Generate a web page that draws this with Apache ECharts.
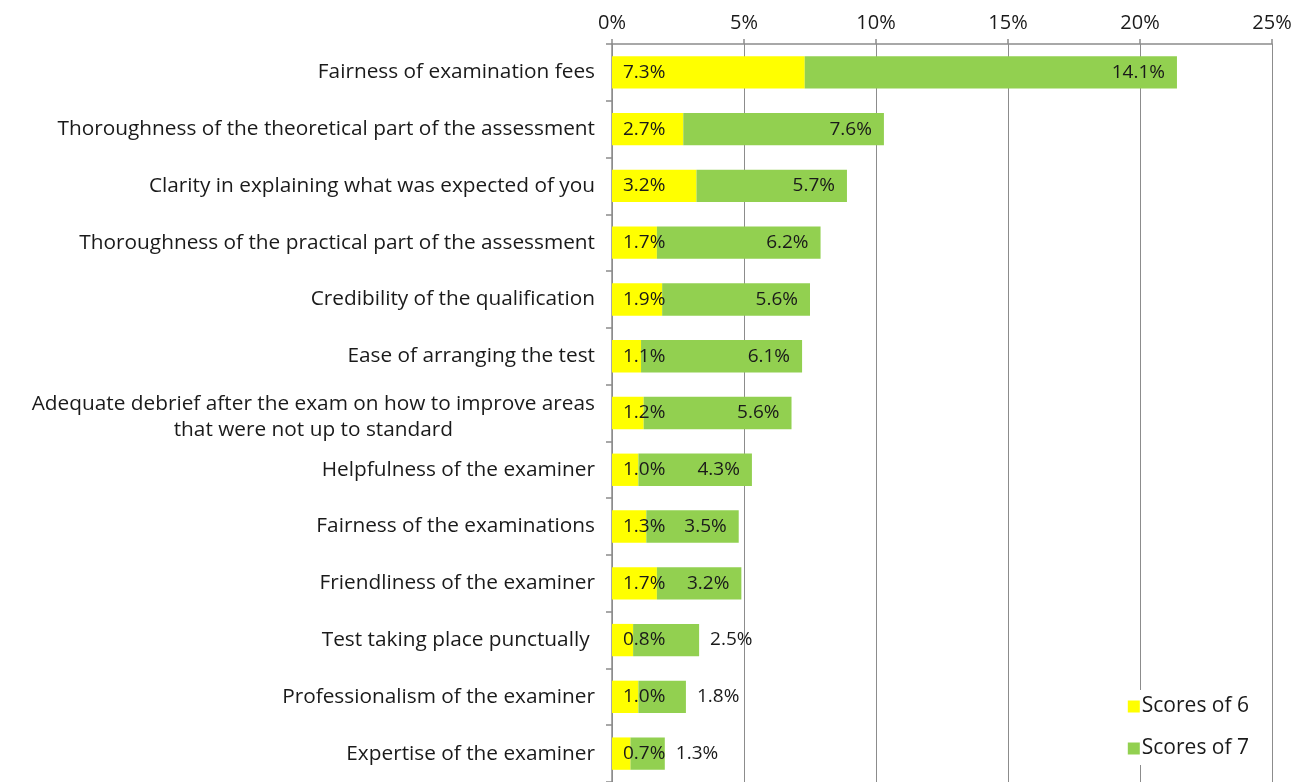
<!DOCTYPE html>
<html>
<head>
<meta charset="utf-8">
<script src="https://cdn.jsdelivr.net/npm/echarts@6/dist/echarts.min.js"></script>
<style>
  html, body { margin: 0; padding: 0; background: #fff; }
  #chart { width: 1305px; height: 782px; }
</style>
</head>
<body>
<div id="chart"></div>
<script>
// Satisfaction drivers: share of respondents giving top scores
const categories = [
  'Fairness of examination fees',
  'Thoroughness of the theoretical part of the assessment',
  'Clarity in explaining what was expected of you',
  'Thoroughness of the practical part of the assessment',
  'Credibility of the qualification',
  'Ease of arranging the test',
  'Adequate debrief after the exam on how to improve areas\nthat were not up to standard',
  'Helpfulness of the examiner',
  'Fairness of the examinations',
  'Friendliness of the examiner',
  'Test taking place punctually ',
  'Professionalism of the examiner',
  'Expertise of the examiner'
];
const scores6 = [7.3, 2.7, 3.2, 1.7, 1.9, 1.1, 1.2, 1.0, 1.3, 1.7, 0.8, 1.0, 0.7];
const scores7 = [14.1, 7.6, 5.7, 6.2, 5.6, 6.1, 5.6, 4.3, 3.5, 3.2, 2.5, 1.8, 1.3];
const seriesNames = ['Scores of 6', 'Scores of 7'];
const axisMax = 25;
const axisStep = 5;

const FONT = 'Open Sans';
const CAT_FS = 20.8;
const TICK_FS = 20;
const VAL_FS = 19;
const LEG_FS = 21;
const TXT = '#1a1a1a';

// width of the longest line of the wrapped label, so both lines centre on it
const ctx = document.createElement('canvas').getContext('2d');
ctx.font = CAT_FS + 'px "' + FONT + '"';

const chart = echarts.init(document.getElementById('chart'));

const catLabels = categories.map(c => {
  if (c.indexOf('\n') < 0) return c;
  const lines = c.split('\n');
  return {
    value: lines.map(l => '{w|' + l + '}').join('\n'),
    textStyle: { padding: [8, 0, 0, 0] }
  };
});
const wrapWidth = Math.max(...categories.filter(c => c.indexOf('\n') >= 0)
  .flatMap(c => c.split('\n')).map(l => ctx.measureText(l).width));

function fmt(v) { return v.toFixed(1) + '%'; }

chart.setOption({
  animation: false,
  backgroundColor: '#fff',
  textStyle: { fontFamily: FONT, color: TXT },
  grid: { left: 612, right: 33, top: 44, height: 741, containLabel: false },
  legend: {
    orient: 'vertical',
    right: 48,
    bottom: 17,
    itemWidth: 12,
    itemHeight: 12,
    itemGap: 21,
    icon: 'rect',
    backgroundColor: '#fff',
    padding: [6, 8, 6, 8],
    textStyle: { fontFamily: FONT, fontSize: LEG_FS, color: TXT, padding: [0, 0, 0, -3] },
    data: seriesNames
  },
  xAxis: {
    type: 'value',
    position: 'top',
    min: 0,
    max: axisMax,
    interval: axisStep,
    axisLine: { show: true, lineStyle: { color: '#8c8c8c', width: 1.5 } },
    axisTick: { show: true, length: 5, lineStyle: { color: '#8c8c8c', width: 1.5 } },
    splitLine: { show: true, lineStyle: { color: '#8c8c8c', width: 1 } },
    axisLabel: {
      formatter: v => v + '%',
      fontFamily: FONT, fontSize: TICK_FS, color: TXT, margin: 11
    }
  },
  yAxis: {
    type: 'category',
    inverse: true,
    data: catLabels,
    axisLine: { show: true, lineStyle: { color: '#8c8c8c', width: 1.5 } },
    axisTick: { show: true, length: 6, lineStyle: { color: '#8c8c8c', width: 1.5 } },
    axisLabel: {
      fontFamily: FONT, fontSize: CAT_FS, color: TXT, margin: 17, lineHeight: 26,
      rich: { w: { fontFamily: FONT, fontSize: CAT_FS, color: TXT, width: wrapWidth, align: 'center', lineHeight: 26 } }
    }
  },
  series: [
    {
      name: seriesNames[0],
      type: 'bar',
      stack: 'total',
      barWidth: '57%',
      itemStyle: { color: '#ffff00' },
      label: {
        show: true, position: 'insideLeft', distance: 11,
        formatter: p => fmt(p.value), fontFamily: FONT, fontSize: VAL_FS, color: TXT
      },
      data: scores6
    },
    {
      name: seriesNames[1],
      type: 'bar',
      stack: 'total',
      barWidth: '57%',
      itemStyle: { color: '#92d050' },
      label: {
        show: true, position: 'insideRight', distance: 12,
        formatter: p => fmt(p.value), fontFamily: FONT, fontSize: VAL_FS, color: TXT
      },
      data: scores7.map(v => v < 3 ? {
        value: v,
        label: { position: 'right', distance: 11 }
      } : v)
    }
  ]
});
</script>
</body>
</html>
